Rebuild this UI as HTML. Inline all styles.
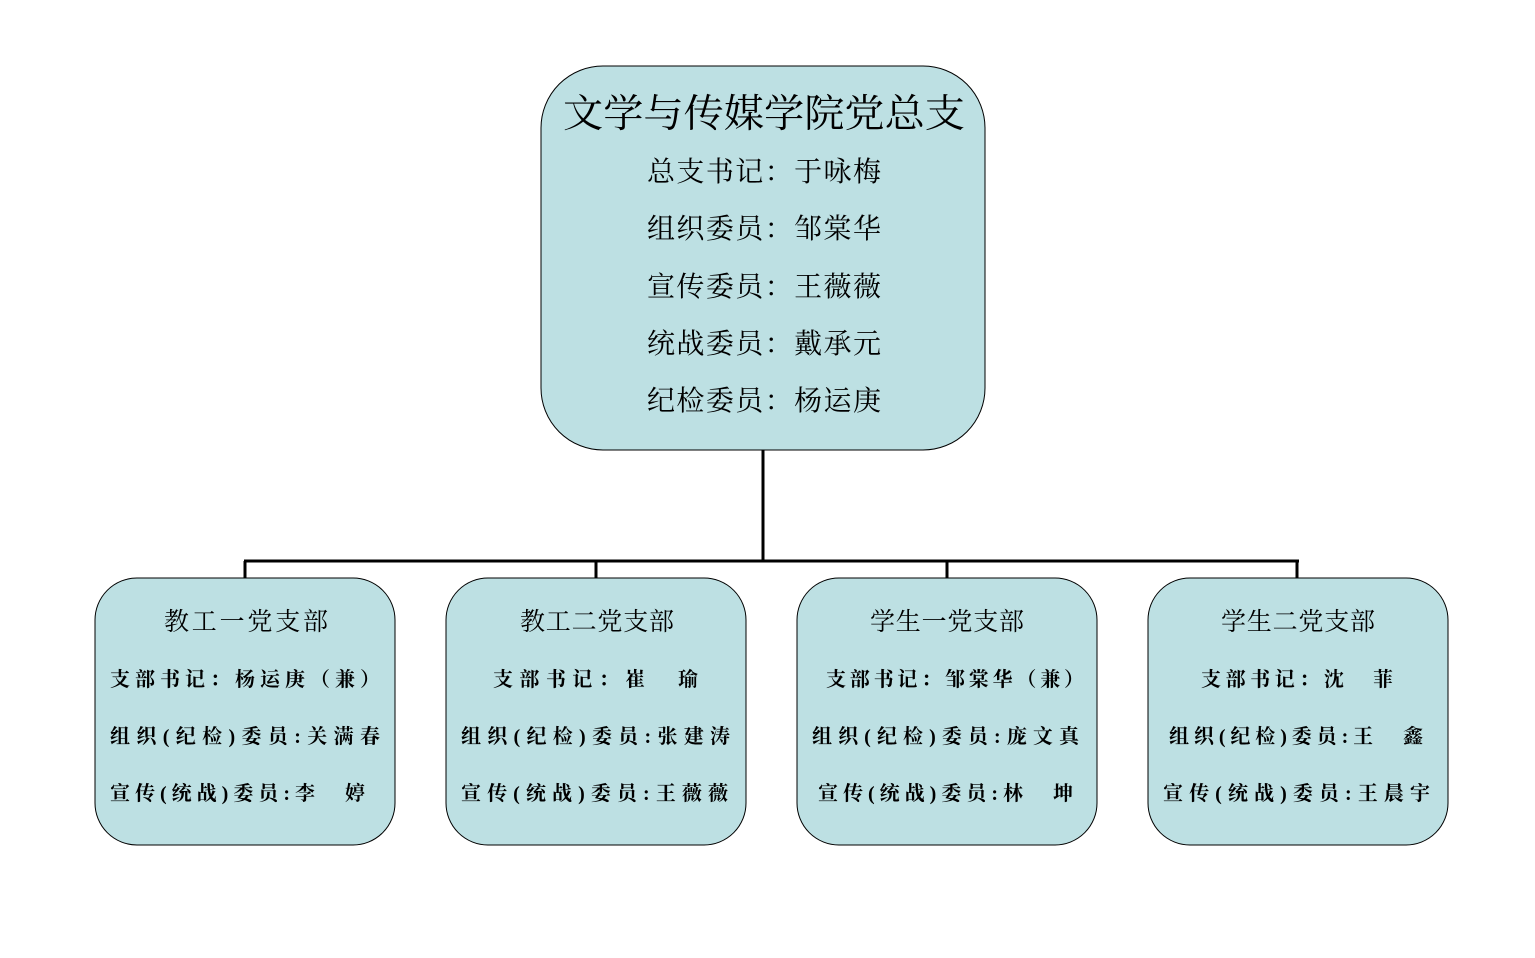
<!DOCTYPE html>
<html><head><meta charset="utf-8"><style>html,body{margin:0;padding:0;background:#fff}</style></head>
<body>
<svg width="1535" height="953" xmlns="http://www.w3.org/2000/svg" font-family="'Liberation Serif','Noto Serif CJK SC',serif">
<g stroke="#000" stroke-width="3" fill="none">
<line x1="763" y1="450" x2="763" y2="562"/>
<line x1="244" y1="561" x2="1299" y2="561"/>
<line x1="245" y1="561" x2="245" y2="578"/>
<line x1="596" y1="561" x2="596" y2="578"/>
<line x1="947" y1="561" x2="947" y2="578"/>
<line x1="1297" y1="561" x2="1297" y2="578"/>
</g>
<g fill="#bde0e3" stroke="#000" stroke-width="1">
<rect x="541" y="66" width="444" height="384" rx="62"/>
<rect x="95" y="578" width="300" height="267" rx="42"/>
<rect x="446" y="578" width="300" height="267" rx="42"/>
<rect x="797" y="578" width="300" height="267" rx="42"/>
<rect x="1148" y="578" width="300" height="267" rx="42"/>
</g>
<g fill="#000">
<text x="563" y="127" font-size="39" textLength="402" lengthAdjust="spacingAndGlyphs">文学与传媒学院党总支</text>
<g font-size="28">
<text x="647" y="181" textLength="234">总支书记：于咏梅</text>
<text x="647" y="238" textLength="234">组织委员：邹棠华</text>
<text x="647" y="296" textLength="234">宣传委员：王薇薇</text>
<text x="647" y="353" textLength="234">统战委员：戴承元</text>
<text x="647" y="410" textLength="234">纪检委员：杨运庚</text>
</g>
<g font-size="25">
<text x="164" y="630" textLength="164">教工一党支部</text>
<text x="520" y="630" textLength="154">教工二党支部</text>
<text x="870" y="630" textLength="154">学生一党支部</text>
<text x="1221" y="630" textLength="154">学生二党支部</text>
</g>
<g font-size="20" font-weight="bold">
<text x="110" y="686" textLength="270">支部书记：杨运庚（兼）</text>
<text x="110" y="743" textLength="270">组织(纪检)委员:关满春</text>
<text x="110" y="800" textLength="255">宣传(统战)委员:李　婷</text>
<text x="493" y="686" textLength="205">支部书记：崔　瑜</text>
<text x="461" y="743" textLength="269">组织(纪检)委员:张建涛</text>
<text x="461" y="800" textLength="267">宣传(统战)委员:王薇薇</text>
<text x="826" y="686" textLength="258">支部书记：邹棠华（兼）</text>
<text x="812" y="743" textLength="267">组织(纪检)委员:庞文真</text>
<text x="818" y="800" textLength="255">宣传(统战)委员:林　坤</text>
<text x="1201" y="686" textLength="192">支部书记：沈　菲</text>
<text x="1169" y="743" textLength="254">组织(纪检)委员:王　鑫</text>
<text x="1163" y="800" textLength="267">宣传(统战)委员:王晨宇</text>
</g>
</g>
</svg>
</body></html>
